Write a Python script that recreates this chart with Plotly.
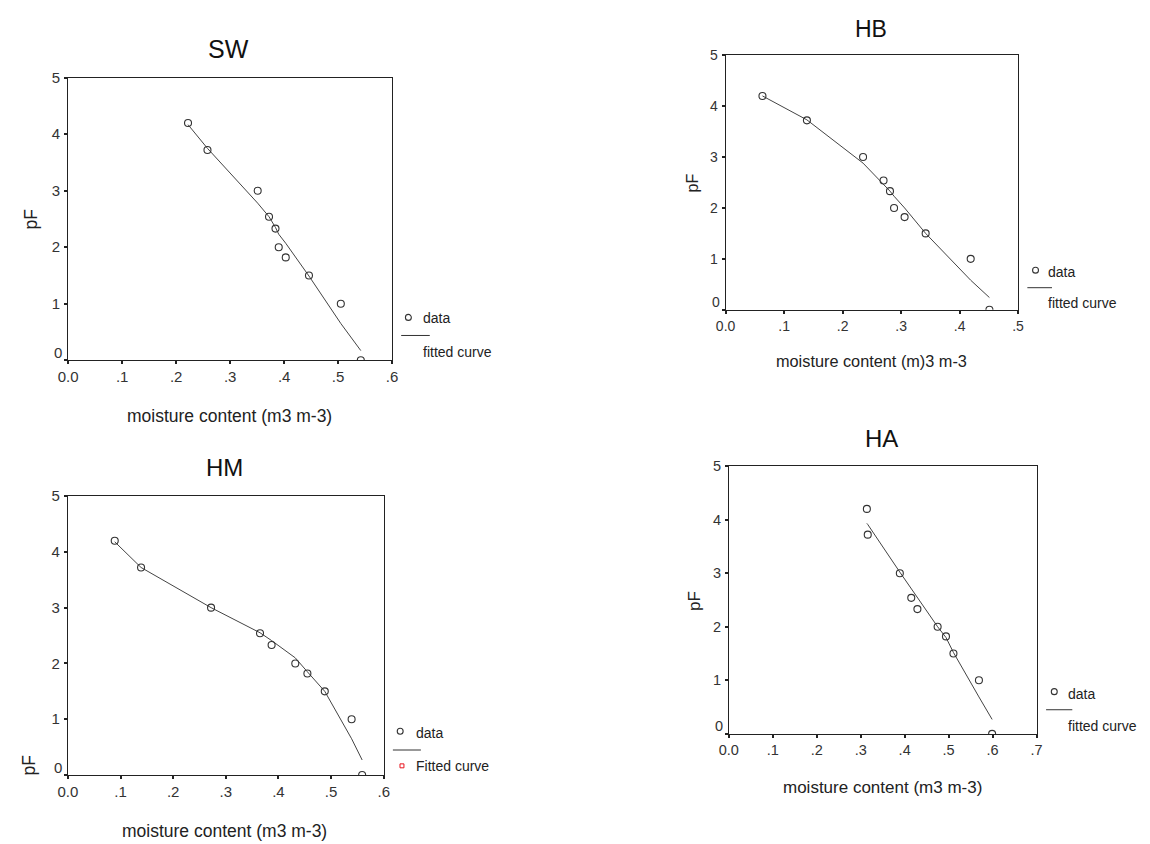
import plotly.graph_objects as go

# pF levels shared by all four soils
pf = [4.2, 3.72, 3.0, 2.54, 2.33, 2.0, 1.82, 1.5, 1.0, 0.0]

# Measured moisture content (m3 m-3) per soil
sw_theta = [0.222, 0.258, 0.351, 0.372, 0.384, 0.390, 0.403, 0.446, 0.505, 0.542]
hb_theta = [0.063, 0.139, 0.235, 0.270, 0.281, 0.288, 0.306, 0.342, 0.419, 0.451]
hm_theta = [0.089, 0.139, 0.272, 0.365, 0.387, 0.432, 0.455, 0.488, 0.539, 0.559]
ha_theta = [0.314, 0.316, 0.389, 0.415, 0.429, 0.475, 0.494, 0.511, 0.569, 0.599]

# Fitted pF at each measured moisture content
sw_fit = [4.17, 3.75, 2.78, 2.54, 2.35, 2.23, 2.07, 1.49, 0.65, 0.17]
hb_fit = [4.20, 3.73, 2.88, 2.47, 2.33, 2.23, 2.00, 1.50, 0.58, 0.24]
hm_fit = [4.18, 3.72, 3.00, 2.55, 2.41, 2.10, 1.85, 1.50, 0.65, 0.27]
ha_fit = [3.93, 3.91, 3.02, 2.71, 2.55, 2.00, 1.80, 1.52, 0.69, 0.27]

titles = ["SW", "HB", "HM", "HA"]
x_titles = ["moisture content (m3 m-3)", "moisture content (m)3 m-3",
            "moisture content (m3 m-3)", "moisture content (m3 m-3)"]
x_ticks = [[0, 0.1, 0.2, 0.3, 0.4, 0.5, 0.6],
           [0, 0.1, 0.2, 0.3, 0.4, 0.5],
           [0, 0.1, 0.2, 0.3, 0.4, 0.5, 0.6],
           [0, 0.1, 0.2, 0.3, 0.4, 0.5, 0.6, 0.7]]
x_ticktext = [["0.0", ".1", ".2", ".3", ".4", ".5", ".6"],
              ["0.0", ".1", ".2", ".3", ".4", ".5"],
              ["0.0", ".1", ".2", ".3", ".4", ".5", ".6"],
              ["0.0", ".1", ".2", ".3", ".4", ".5", ".6", ".7"]]
y_ticks = [0, 1, 2, 3, 4, 5]
y_ticktext = ["", "1", "2", "3", "4", "5"]
y_zero_label = "0"   # drawn separately, lifted off the lower-left corner
legend_labels = [("data", "fitted curve"), ("data", "fitted curve"),
                 ("data", "Fitted curve"), ("data", "fitted curve")]

W, H = 1150, 844
FONT = "Liberation Sans, Arial, sans-serif"
INK = "#333333"


def fx(p):
    return p / W


def fy(p):
    return 1 - p / H


# Plot boxes in pixels: left, right, top, bottom
boxes = [(59, 387.5, 69.5, 355),
         (725.7, 1022.3, 46.7, 304),
         (58.7, 379, 492.3, 774.3),
         (729, 1041, 462, 732.7)]
tick_font = [15, 14, 15, 14.5]
axis_font = [17.5, 16.3, 17.5, 17]
title_font = [25, 23, 24, 24]
title_pos = [(222, 40), (873.5, 20), (218, 463), (884, 434)]
xtitle_pos = [(223, 411), (874, 356), (218, 831), (885, 787)]
ytitle_pos = [(21, 213), (692, 176), (19, 765), (694, 598)]
# legend anchor: circle centre, text left, line span
legend_pos = [
    dict(cx=404, cy=311.7, tx=417, ty1=312, lx0=396.7, lx1=425.7, ly=330, ty2=347),
    dict(cx=1040, cy=264, tx=1050.7, ty1=265.7, lx0=1031.7, lx1=1056.7, ly=281.7, ty2=296.7),
    dict(cx=395.7, cy=730, tx=410, ty1=732, lx0=388.3, lx1=416.7, ly=749, ty2=765),
    dict(cx=1059, cy=690, tx=1070.7, ty1=692.3, lx0=1050.7, lx1=1077.3, ly=708.3, ty2=724.3),
]

thetas = [sw_theta, hb_theta, hm_theta, ha_theta]
fits = [sw_fit, hb_fit, hm_fit, ha_fit]

fig = go.Figure()
annotations = []
shapes = []

for i in range(4):
    sfx = "" if i == 0 else str(i + 1)
    xa, ya = "x" + sfx, "y" + sfx
    order = sorted(range(len(thetas[i])), key=lambda k: thetas[i][k])
    fig.add_trace(go.Scatter(
        x=[thetas[i][k] for k in order], y=[fits[i][k] for k in order],
        mode="lines", line=dict(color="#444444", width=1),
        xaxis=xa, yaxis=ya, showlegend=False, hoverinfo="skip"))
    fig.add_trace(go.Scatter(
        x=thetas[i], y=pf, mode="markers",
        marker=dict(symbol="circle-open", size=7, color="#333333",
                    line=dict(width=1.1, color="#333333")),
        xaxis=xa, yaxis=ya, showlegend=False))

    l, r, t, b = boxes[i]
    xmax = x_ticks[i][-1]
    axis_common = dict(showgrid=False, zeroline=False, showline=True,
                       linecolor="#222222", linewidth=1, mirror=True,
                       ticks="outside", ticklen=3, tickwidth=2, tickcolor="#222222",
                       tickfont=dict(family=FONT, size=tick_font[i], color=INK))
    fig.layout["xaxis" + sfx] = dict(
        domain=[fx(l), fx(r)], range=[0, xmax], anchor=ya,
        tickmode="array", tickvals=x_ticks[i], ticktext=x_ticktext[i],
        **axis_common)
    fig.layout["yaxis" + sfx] = dict(
        domain=[fy(b), fy(t)], range=[0, 5], anchor=xa,
        tickmode="array", tickvals=y_ticks, ticktext=y_ticktext,
        ticklabelstandoff=1, **axis_common)

    # y label "0", raised above its tick
    annotations.append(dict(
        text=y_zero_label, x=0, y=0, xref=xa + " domain", yref=ya,
        xanchor="right", yanchor="middle", xshift=-4, yshift=8,
        showarrow=False, font=dict(family=FONT, size=tick_font[i], color=INK)))
    # panel title
    annotations.append(dict(
        text=titles[i], x=fx(title_pos[i][0]), y=fy(title_pos[i][1]),
        xref="paper", yref="paper", xanchor="center", yanchor="middle",
        showarrow=False, font=dict(family=FONT, size=title_font[i], color="#111111")))
    # x-axis title
    annotations.append(dict(
        text=x_titles[i], x=fx(xtitle_pos[i][0]), y=fy(xtitle_pos[i][1]),
        xref="paper", yref="paper", xanchor="center", yanchor="middle",
        showarrow=False, font=dict(family=FONT, size=axis_font[i], color="#222222")))
    # y-axis title
    annotations.append(dict(
        text="pF", x=fx(ytitle_pos[i][0]), y=fy(ytitle_pos[i][1]),
        xref="paper", yref="paper", xanchor="center", yanchor="middle",
        textangle=-90, showarrow=False,
        font=dict(family=FONT, size=axis_font[i], color="#222222")))

    # legend: open circle + "data", dash line, then curve label
    lg = legend_pos[i]
    rad = 3
    shapes.append(dict(type="circle", xref="paper", yref="paper",
                       x0=fx(lg["cx"] - rad), x1=fx(lg["cx"] + rad),
                       y0=fy(lg["cy"] + rad), y1=fy(lg["cy"] - rad),
                       line=dict(color="#333333", width=1.1)))
    shapes.append(dict(type="line", xref="paper", yref="paper",
                       x0=fx(lg["lx0"]), x1=fx(lg["lx1"]),
                       y0=fy(lg["ly"]), y1=fy(lg["ly"]),
                       line=dict(color="#333333", width=1)))
    annotations.append(dict(
        text=legend_labels[i][0], x=fx(lg["tx"]), y=fy(lg["ty1"]),
        xref="paper", yref="paper", xanchor="left", yanchor="middle",
        showarrow=False, font=dict(family=FONT, size=14, color="#222222")))
    annotations.append(dict(
        text=legend_labels[i][1], x=fx(lg["tx"]), y=fy(lg["ty2"]),
        xref="paper", yref="paper", xanchor="left", yanchor="middle",
        showarrow=False, font=dict(family=FONT, size=14, color="#222222")))

# HM legend carries a small red square beside its curve label
shapes.append(dict(type="rect", xref="paper", yref="paper",
                   x0=fx(395.5), x1=fx(399.5), y0=fy(767), y1=fy(763),
                   line=dict(color="#e8141e", width=1), fillcolor="white"))

# Size comes from the plot div, which is pinned to the page's top-left corner
fig.update_layout(
    autosize=True,
    margin=dict(l=0, r=0, t=0, b=0),
    paper_bgcolor="white", plot_bgcolor="white",
    annotations=annotations, shapes=shapes,
    showlegend=False,
)

fig.write_html(
    "out.html",
    default_width=f"{W}px",
    default_height=f"{H}px; position:absolute; left:0; top:0",
)
